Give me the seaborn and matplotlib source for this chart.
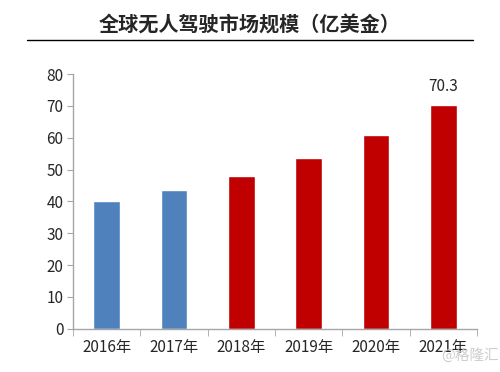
import numpy as np
import pandas as pd
import seaborn as sns
import matplotlib.pyplot as plt

years = ["2016年", "2017年", "2018年", "2019年", "2020年", "2021年"]
market = [40.0, 43.6, 48.1, 53.7, 60.9, 70.3]
bar_colors = ["#4F81BD", "#4F81BD", "#C00000", "#C00000", "#C00000", "#C00000"]

sns.set_style("white")
plt.rcParams['font.family'] = ['Noto Sans CJK SC', 'DejaVu Sans']

df = pd.DataFrame({"year": years, "value": market})

fig = plt.figure(figsize=(5, 3.72), dpi=100)
ax = fig.add_axes([0.146, 0.116, 0.808, 0.685])

sns.barplot(x="year", y="value", data=df, hue="year", palette=bar_colors,
            width=0.4, legend=False, ax=ax, saturation=1)

ax.set_ylim(0, 80)
ax.set_xlim(-0.5, 5.5)
ax.set_yticks(range(0, 81, 10))
ax.set_xlabel("")
ax.set_ylabel("")

for s in ["top", "right"]:
    ax.spines[s].set_visible(False)
for s in ["left", "bottom"]:
    ax.spines[s].set_color("#A6A6A6")
    ax.spines[s].set_linewidth(1)

ax.tick_params(axis="y", length=4, color="#A6A6A6", labelsize=11, pad=3, left=True)
ax.tick_params(axis="x", which="major", length=0, labelsize=11, pad=7)
ax.set_xticks(np.arange(-0.5, 6, 1), minor=True)
ax.tick_params(axis="x", which="minor", length=5, color="#A6A6A6", bottom=True)

# label on last bar
ax.text(5, market[-1] + 3, f"{market[-1]:.1f}", ha="center", va="bottom", fontsize=11)

# title and rule
fig.text(0.5, 0.933, "全球无人驾驶市场规模（亿美金）", ha="center", va="center",
         fontsize=14.5, fontweight="heavy")
fig.add_artist(plt.Line2D([0.054, 0.946], [0.893, 0.893], color="black", lw=1))

# watermark
fig.text(0.882, 0.032, "@格隆汇", fontsize=10.5, color="#C8C8C8", alpha=0.9)

fig.savefig("out.png", dpi=100)
